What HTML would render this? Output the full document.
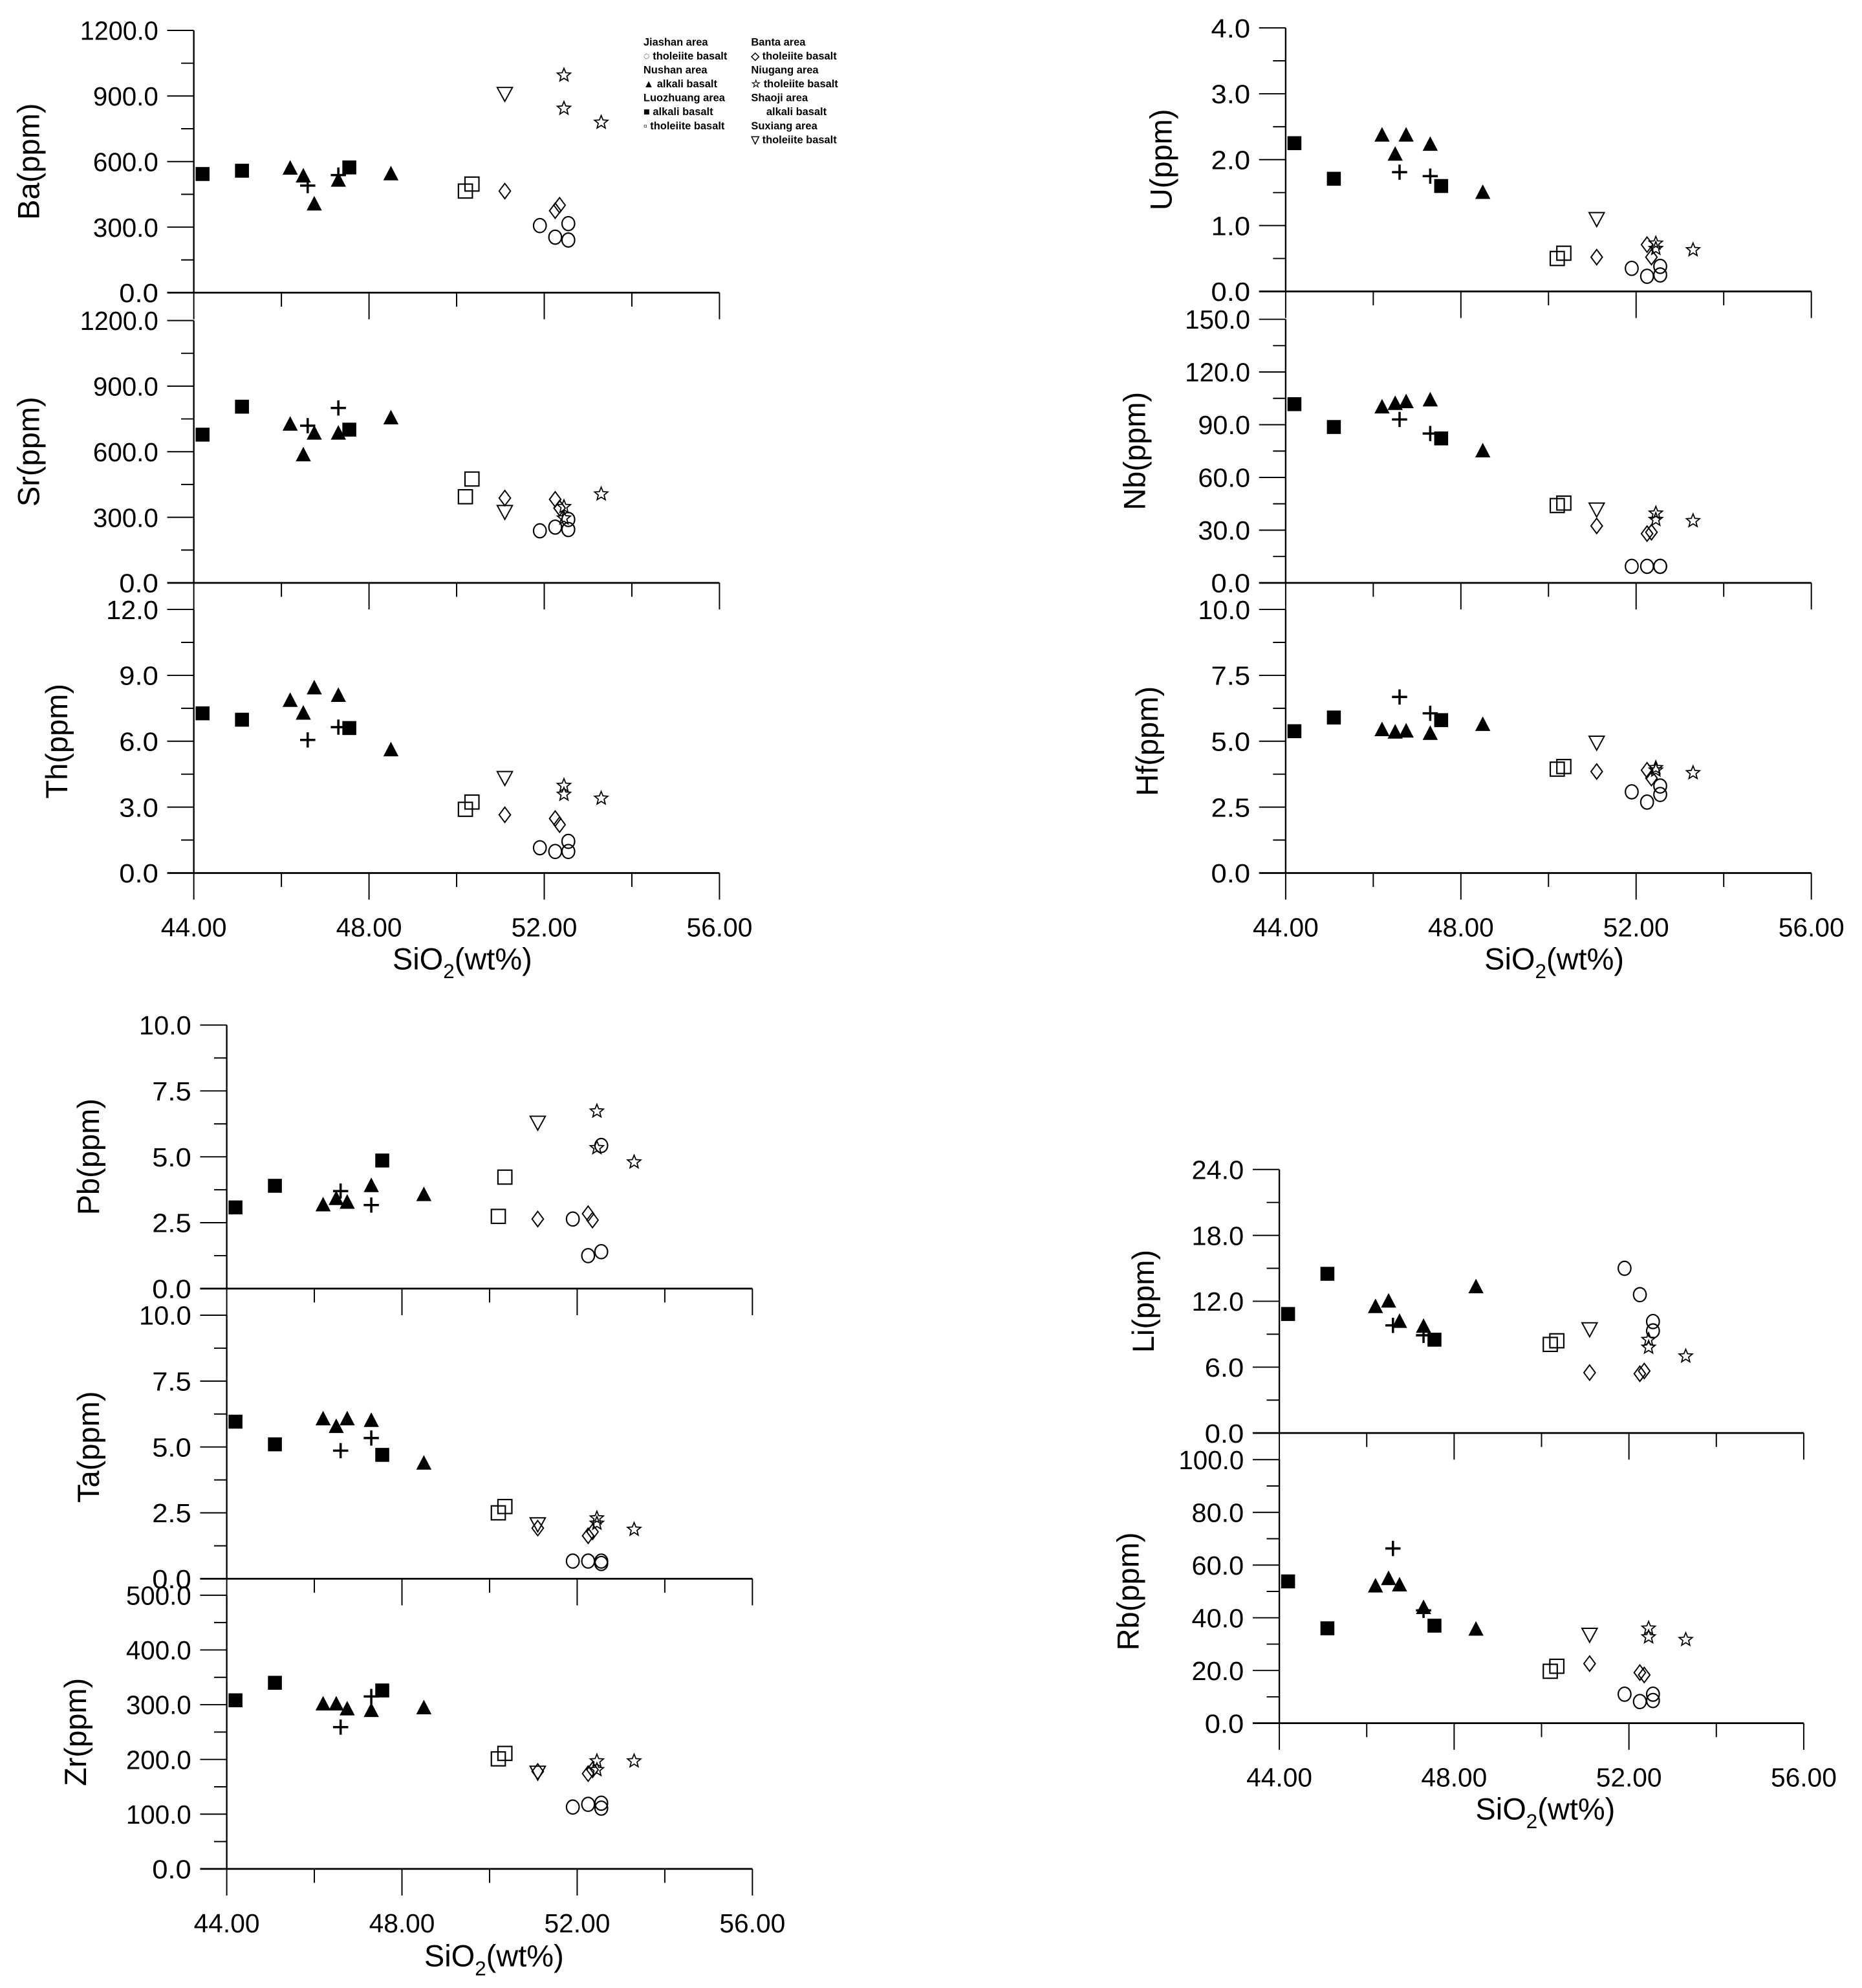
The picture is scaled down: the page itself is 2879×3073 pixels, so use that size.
<!DOCTYPE html>
<html><head><meta charset="utf-8"><style>
html,body{margin:0;padding:0;background:#fff}
svg{display:block}
text{font-family:"Liberation Sans",Arial,sans-serif;fill:#000}
</style></head><body>
<svg id="fig" xmlns="http://www.w3.org/2000/svg" width="2879" height="3073" viewBox="0 0 1470 1569" preserveAspectRatio="none">
<g id="legend" font-size="8.4" font-weight="bold">
<text x="508" y="36">Jiashan area</text>
<text x="508" y="47">◌ tholeiite basalt</text>
<text x="508" y="58">Nushan area</text>
<text x="508" y="69">▲ alkali basalt</text>
<text x="508" y="80">Luozhuang area</text>
<text x="508" y="91">■ alkali basalt</text>
<text x="508" y="102">▫  tholeiite basalt</text>
<text x="593" y="36">Banta area</text>
<text x="593" y="47">◇ tholeiite basalt</text>
<text x="593" y="58">Niugang area</text>
<text x="593" y="69">☆ tholeiite basalt</text>
<text x="593" y="80">Shaoji area</text>
<text x="605" y="91">alkali basalt</text>
<text x="593" y="102">Suxiang area</text>
<text x="593" y="113">▽ tholeiite basalt</text>
</g>
</svg>
<script>
// sample groups (order shared by all value arrays)
const groups = ['fsq','fsq','fsq','tri','tri','tri','tri','tri','plus','plus','osq','osq','itri','dia','dia','dia','circ','circ','circ','circ','star','star','star'];
const sio2 = [44.2,45.1,47.55, 46.2,46.5,46.75,47.3,48.5, 46.6,47.3, 50.2,50.35, 51.1, 51.1,52.25,52.35, 51.9,52.25,52.55,52.55, 52.45,52.45,53.3];
const xTicks = [44,46,48,50,52,54,56];
const xTickLabels = ['44.00','','48.00','','52.00','','56.00'];
const baValues = [543,558,573, 569,533,405,514,543, 490,538, 465,497, 910, 465,375,400, 307,254,316,241, 995,843,779];
const srValues = [678,806,701, 725,585,684,684,754, 719,800, 394,475, 325, 388,382,342, 238,255,290,244, 348,296,406];
const thValues = [7.27,6.98,6.6, 7.85,7.27,8.42,8.08,5.6, 6.06,6.64, 2.9,3.23, 4.33, 2.65,2.48,2.2, 1.15,0.98,1.44,0.98, 3.98,3.58,3.4];
const uValues = [2.25,1.71,1.6, 2.37,2.08,2.37,2.23,1.5, 1.81,1.75, 0.5,0.58, 1.1, 0.52,0.71,0.52, 0.35,0.23,0.38,0.25, 0.73,0.65,0.63];
const nbValues = [101.7,88.7,82.2, 100,102,103,104,75, 93,85, 44,45.4, 41.8, 32.4,28,28.8, 9.4,9.4,9.4,9.4, 39.6,36,35.3];
const hfValues = [5.38,5.9,5.8, 5.43,5.34,5.38,5.29,5.63, 6.68,6.06, 3.94,4.04, 4.95, 3.85,3.9,3.6, 3.08,2.69,3.3,2.98, 3.99,3.9,3.8];
const pbValues = [3.08,3.9,4.86, 3.17,3.41,3.27,3.9,3.56, 3.7,3.17, 2.74,4.23, 6.3, 2.64,2.84,2.6, 2.64,1.25,5.43,1.4, 6.73,5.34,4.8];
const taValues = [5.96,5.1,4.7, 6.06,5.77,6.06,6.0,4.38, 4.86,5.34, 2.5,2.74, 2.07, 1.92,1.63,1.78, 0.67,0.67,0.67,0.58, 2.3,2.1,1.87];
const zrValues = [308,340,326, 301,301,292,289,294, 259,315, 201,211, 176, 178,174,181, 113,118,120,111, 197,181,197];
const liValues = [10.84,14.5,8.5, 11.5,12,10.15,9.7,13.3, 9.8,8.9, 8.07,8.4, 9.46, 5.5,5.4,5.65, 15,12.6,10.15,9.3, 8.5,7.8,7.0];
const rbValues = [53.8,36,37, 52,54.8,52.4,43.8,35.6, 66.3,42.8, 19.7,21.6, 33.6, 22.6,19.2,18.3, 11,8.2,11,8.6, 36,32.7,31.7];

const NS='http://www.w3.org/2000/svg';
const svg=document.getElementById('fig');
function mk(tag,attrs,parent){const e=document.createElementNS(NS,tag);for(const k in attrs)e.setAttribute(k,attrs[k]);(parent||svg).appendChild(e);return e;}

const panels=[
 {id:'ba',lab:'Ba(ppm)',vals:baValues,ax:153,x1:568,top:24,bot:231,max:1200,maj:300,min:150,dec:1,lx:23,xl:false},
 {id:'sr',lab:'Sr(ppm)',vals:srValues,ax:153,x1:568,top:253,bot:460,max:1200,maj:300,min:150,dec:1,lx:23,xl:false},
 {id:'th',lab:'Th(ppm)',vals:thValues,ax:153,x1:568,top:481,bot:689,max:12,maj:3,min:1.5,dec:1,lx:45,xl:true,tx:365,ty:757},
 {id:'u',lab:'U(ppm)',vals:uValues,ax:1015,x1:1430,top:22,bot:230,max:4,maj:1,min:0.5,dec:1,lx:917,xl:false},
 {id:'nb',lab:'Nb(ppm)',vals:nbValues,ax:1015,x1:1430,top:252,bot:460,max:150,maj:30,min:15,dec:1,lx:896,xl:false},
 {id:'hf',lab:'Hf(ppm)',vals:hfValues,ax:1015,x1:1430,top:481,bot:689,max:10,maj:2.5,min:1.25,dec:1,lx:906,xl:true,tx:1227,ty:757},
 {id:'pb',lab:'Pb(ppm)',vals:pbValues,ax:179,x1:594,top:809,bot:1017,max:10,maj:2.5,min:1.25,dec:1,lx:70,xl:false},
 {id:'ta',lab:'Ta(ppm)',vals:taValues,ax:179,x1:594,top:1038,bot:1246,max:10,maj:2.5,min:1.25,dec:1,lx:70,xl:false},
 {id:'zr',lab:'Zr(ppm)',vals:zrValues,ax:179,x1:594,top:1259,bot:1475,max:500,maj:100,min:50,dec:1,lx:60,xl:true,tx:390,ty:1544},
 {id:'li',lab:'Li(ppm)',vals:liValues,ax:1010,x1:1424,top:923,bot:1131,max:24,maj:6,min:3,dec:1,lx:903,xl:false},
 {id:'rb',lab:'Rb(ppm)',vals:rbValues,ax:1010,x1:1424,top:1152,bot:1360,max:100,maj:20,min:10,dec:1,lx:891,xl:true,tx:1220,ty:1428}
];

function drawSym(g,type,cx,cy){
 const s=5.5;let e;
 if(type==='fsq') e=mk('rect',{x:cx-s,y:cy-s,width:2*s,height:2*s,fill:'#000'},g);
 else if(type==='osq') e=mk('rect',{x:cx-s,y:cy-s,width:2*s,height:2*s,fill:'none',stroke:'#000','stroke-width':1.1},g);
 else if(type==='tri') e=mk('polygon',{points:`${cx},${cy-6.5} ${cx+6},${cy+5} ${cx-6},${cy+5}`,fill:'#000'},g);
 else if(type==='itri') e=mk('polygon',{points:`${cx-6},${cy-5} ${cx+6},${cy-5} ${cx},${cy+6}`,fill:'none',stroke:'#000','stroke-width':1},g);
 else if(type==='dia') e=mk('polygon',{points:`${cx},${cy-6} ${cx+4.5},${cy} ${cx},${cy+6} ${cx-4.5},${cy}`,fill:'none',stroke:'#000','stroke-width':1},g);
 else if(type==='circ') e=mk('ellipse',{cx:cx,cy:cy,rx:5,ry:5.5,fill:'none',stroke:'#000','stroke-width':1.1},g);
 else if(type==='plus') e=mk('path',{d:`M${cx-6},${cy}H${cx+6}M${cx},${cy-6}V${cy+6}`,stroke:'#000','stroke-width':1.8},g);
 else if(type==='star'){let p=[];for(let i=0;i<10;i++){const r=i%2?2.4:5.5;const a=-Math.PI/2+i*Math.PI/5;p.push((cx+r*Math.cos(a)).toFixed(2)+','+(cy+r*Math.sin(a)).toFixed(2));}e=mk('polygon',{points:p.join(' '),fill:'none',stroke:'#000','stroke-width':0.9},g);}
 return e;
}

panels.forEach(P=>{
 const g=mk('g',{});
 
 
 const xs=v=>P.ax+(v-44)*(P.x1-P.ax)/12;
 const ys=v=>P.bot-v*(P.bot-P.top)/P.max;
 const yaxis=mk('line',{x1:P.ax,y1:P.top,x2:P.ax,y2:P.bot,stroke:'#000','stroke-width':1.2},g);
 
 
 const xaxis=mk('line',{x1:P.ax-21,y1:P.bot,x2:P.x1,y2:P.bot,stroke:'#000','stroke-width':1.4},g);
 
 
 const n=Math.round(P.max/P.min);
 for(let i=0;i<=n;i++){
  const v=i*P.min, y=ys(v), major=(i%2===0);
  mk('line',{x1:P.ax-(major?21:10),y1:y,x2:P.ax,y2:y,stroke:'#000','stroke-width':1},g);
  if(major){const str=v.toFixed(P.dec);
   const t=mk('text',{x:P.ax-28,y:y+7.5,'text-anchor':'end','font-size':21,textLength:str.length*10.3,lengthAdjust:'spacingAndGlyphs'},g);t.textContent=str;
   
   }
 }
 xTicks.forEach((v,i)=>{
  const x=xs(v), major=(xTickLabels[i]!=='');
  mk('line',{x1:x,y1:P.bot,x2:x,y2:P.bot+(major?21:11),stroke:'#000','stroke-width':1},g);
  if(P.xl&&major){const t=mk('text',{x:x,y:P.bot+50,'text-anchor':'middle','font-size':21,textLength:52,lengthAdjust:'spacingAndGlyphs'},g);t.textContent=xTickLabels[i];
   
   }
 });
 if(P.xl){
  const t=mk('text',{x:P.tx,y:P.ty+8,'text-anchor':'middle','font-size':24},g);
  
  
  t.innerHTML='SiO<tspan dy="7" font-size="16">2</tspan><tspan dy="-7">(wt%)</tspan>';
 }
 const cy=(P.top+P.bot)/2;
 const yl=mk('text',{x:P.lx,y:cy,'text-anchor':'middle','font-size':24,transform:`rotate(-90 ${P.lx} ${cy})`,dy:8},g);
 yl.textContent=P.lab;
 
 
 P.vals.forEach((v,i)=>{
  const e=drawSym(g,groups[i],xs(sio2[i]),ys(v));
  
  
 });
});
</script>
</body></html>
